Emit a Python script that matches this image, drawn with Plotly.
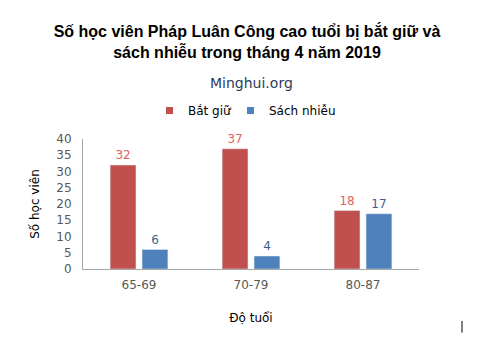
import plotly.graph_objects as go

categories = ["65-69", "70-79", "80-87"]
bat_giu = [32, 37, 18]
sach_nhieu = [6, 4, 17]
y_ticks = [0, 5, 10, 15, 20, 25, 30, 35, 40]
series_names = ["Bắt giữ", "Sách nhiễu"]

RED = "#C0504D"
BLUE = "#4F81BD"
GRAY = "#595959"
FONT = "DejaVu Sans"

fig = go.Figure()
fig.add_trace(go.Bar(
    x=categories, y=bat_giu, name=series_names[0], marker_color=RED,
    text=[str(v) for v in bat_giu], textposition="outside",
    textfont=dict(color="#E0605C", size=12, family=FONT), cliponaxis=False,
))
fig.add_trace(go.Bar(
    x=categories, y=sach_nhieu, name=series_names[1], marker_color=BLUE,
    text=[str(v) for v in sach_nhieu], textposition="outside",
    textfont=dict(color="#3B5F8F", size=12, family=FONT), cliponaxis=False,
))

# manual legend (small squares + labels), placed in paper coordinates
legend_shapes = []
legend_annos = []
for (sx0, sx1, tx, col, name) in [
    (0.247, 0.268, 0.3065, RED, series_names[0]),
    (0.488, 0.509, 0.5476, BLUE, series_names[1]),
]:
    legend_shapes.append(dict(
        type="rect", xref="paper", yref="paper", x0=sx0, x1=sx1, y0=1.192, y1=1.246,
        fillcolor=col, line=dict(width=0),
    ))
    legend_annos.append(dict(
        text=name, xref="paper", yref="paper", x=tx, y=1.215,
        xanchor="left", yanchor="middle", showarrow=False,
        font=dict(family=FONT, size=12, color="black"),
    ))

fig.update_layout(
    width=494, height=352,
    margin=dict(l=83, r=75, t=139, b=83),
    paper_bgcolor="white", plot_bgcolor="white",
    barmode="group", bargap=0.43, bargroupgap=0.19,
    title=dict(
        text="<b>Số học viên Pháp Luân Công cao tuổi bị bắt giữ và<br>sách nhiễu trong tháng 4 năm 2019</b>",
        x=0.5, xanchor="center", y=0.895, yanchor="middle",
        font=dict(family="Liberation Sans, Arial", size=16, color="black"),
    ),
    showlegend=False,
    font=dict(family=FONT),
    annotations=[dict(
        text="Minghui.org", xref="paper", yref="paper", x=0.5, y=1.43,
        xanchor="center", yanchor="middle", showarrow=False,
        font=dict(family=FONT, size=14, color="#2E3A59"),
    )] + legend_annos,
    shapes=[dict(
        type="line", xref="paper", yref="paper",
        x0=1.128, x1=1.128, y0=-0.40, y1=-0.49,
        line=dict(color="black", width=1),
    )] + legend_shapes,
)

fig.update_xaxes(
    showline=True, linecolor="#A6A6A6", linewidth=1,
    tickfont=dict(family=FONT, size=12, color=GRAY), ticklabelstandoff=5,
    title=dict(text="Độ tuổi", font=dict(family=FONT, size=12, color="black"), standoff=22),
    showgrid=False, ticks="",
)
fig.update_yaxes(
    range=[0, 40], tickvals=y_ticks, showline=True, linecolor="#A6A6A6", linewidth=1,
    tickfont=dict(family=FONT, size=12, color=GRAY), ticklabelstandoff=8,
    title=dict(text="Số học viên", font=dict(family=FONT, size=12, color="black"), standoff=14),
    showgrid=False, zeroline=False, ticks="",
)

fig.write_html("out.html")
